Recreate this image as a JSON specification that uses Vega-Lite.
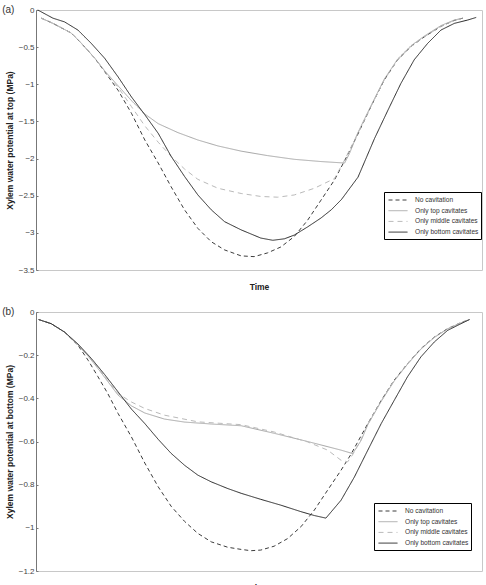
{
  "$schema": "https://vega.github.io/schema/vega-lite/v6.json",
  "padding": {"left": 1, "top": 4, "right": 0, "bottom": 0},
  "datasets": {
    "top": [
      {"s": "No cavitation", "t": 1.2, "v": -0.11}, {"s": "No cavitation", "t": 3.8, "v": -0.18}, {"s": "No cavitation", "t": 7.9, "v": -0.31},
      {"s": "No cavitation", "t": 10.2, "v": -0.45}, {"s": "No cavitation", "t": 13.2, "v": -0.65}, {"s": "No cavitation", "t": 15.4, "v": -0.83},
      {"s": "No cavitation", "t": 18.4, "v": -1.08}, {"s": "No cavitation", "t": 21.4, "v": -1.39}, {"s": "No cavitation", "t": 24.4, "v": -1.75},
      {"s": "No cavitation", "t": 27.4, "v": -2.06}, {"s": "No cavitation", "t": 30.3, "v": -2.38}, {"s": "No cavitation", "t": 33.3, "v": -2.69},
      {"s": "No cavitation", "t": 36.3, "v": -2.94}, {"s": "No cavitation", "t": 39.3, "v": -3.12}, {"s": "No cavitation", "t": 42.3, "v": -3.23},
      {"s": "No cavitation", "t": 46.0, "v": -3.31}, {"s": "No cavitation", "t": 48.9, "v": -3.32}, {"s": "No cavitation", "t": 51.9, "v": -3.27},
      {"s": "No cavitation", "t": 54.9, "v": -3.19}, {"s": "No cavitation", "t": 57.9, "v": -3.05}, {"s": "No cavitation", "t": 60.9, "v": -2.83},
      {"s": "No cavitation", "t": 63.9, "v": -2.56}, {"s": "No cavitation", "t": 66.9, "v": -2.29}, {"s": "No cavitation", "t": 69.1, "v": -2.04},
      {"s": "No cavitation", "t": 72.1, "v": -1.68}, {"s": "No cavitation", "t": 75.1, "v": -1.30}, {"s": "No cavitation", "t": 78.1, "v": -0.94},
      {"s": "No cavitation", "t": 81.1, "v": -0.67}, {"s": "No cavitation", "t": 84.1, "v": -0.49}, {"s": "No cavitation", "t": 87.1, "v": -0.36},
      {"s": "No cavitation", "t": 90.8, "v": -0.22}, {"s": "No cavitation", "t": 93.8, "v": -0.14}, {"s": "No cavitation", "t": 95.7, "v": -0.11},

      {"s": "Only top cavitates", "t": 1.2, "v": -0.11}, {"s": "Only top cavitates", "t": 3.8, "v": -0.18}, {"s": "Only top cavitates", "t": 7.9, "v": -0.31},
      {"s": "Only top cavitates", "t": 10.2, "v": -0.45}, {"s": "Only top cavitates", "t": 13.2, "v": -0.65}, {"s": "Only top cavitates", "t": 15.4, "v": -0.82},
      {"s": "Only top cavitates", "t": 18.4, "v": -1.02}, {"s": "Only top cavitates", "t": 21.4, "v": -1.22}, {"s": "Only top cavitates", "t": 24.4, "v": -1.40},
      {"s": "Only top cavitates", "t": 27.4, "v": -1.53}, {"s": "Only top cavitates", "t": 31.8, "v": -1.65}, {"s": "Only top cavitates", "t": 36.3, "v": -1.75},
      {"s": "Only top cavitates", "t": 40.8, "v": -1.83}, {"s": "Only top cavitates", "t": 46.0, "v": -1.90}, {"s": "Only top cavitates", "t": 51.9, "v": -1.96},
      {"s": "Only top cavitates", "t": 57.9, "v": -2.01}, {"s": "Only top cavitates", "t": 63.9, "v": -2.04}, {"s": "Only top cavitates", "t": 69.2, "v": -2.06},
      {"s": "Only top cavitates", "t": 70.3, "v": -1.93}, {"s": "Only top cavitates", "t": 72.1, "v": -1.66}, {"s": "Only top cavitates", "t": 75.1, "v": -1.29},
      {"s": "Only top cavitates", "t": 78.1, "v": -0.93}, {"s": "Only top cavitates", "t": 81.1, "v": -0.66}, {"s": "Only top cavitates", "t": 84.1, "v": -0.48},
      {"s": "Only top cavitates", "t": 87.1, "v": -0.35}, {"s": "Only top cavitates", "t": 90.8, "v": -0.21}, {"s": "Only top cavitates", "t": 93.8, "v": -0.135},
      {"s": "Only top cavitates", "t": 95.7, "v": -0.11},

      {"s": "Only middle cavitates", "t": 1.2, "v": -0.11}, {"s": "Only middle cavitates", "t": 3.8, "v": -0.18}, {"s": "Only middle cavitates", "t": 7.9, "v": -0.31},
      {"s": "Only middle cavitates", "t": 10.2, "v": -0.45}, {"s": "Only middle cavitates", "t": 13.2, "v": -0.65}, {"s": "Only middle cavitates", "t": 15.4, "v": -0.82},
      {"s": "Only middle cavitates", "t": 18.4, "v": -1.04}, {"s": "Only middle cavitates", "t": 21.4, "v": -1.30}, {"s": "Only middle cavitates", "t": 24.4, "v": -1.56},
      {"s": "Only middle cavitates", "t": 27.4, "v": -1.78}, {"s": "Only middle cavitates", "t": 30.3, "v": -1.97}, {"s": "Only middle cavitates", "t": 33.3, "v": -2.14},
      {"s": "Only middle cavitates", "t": 36.3, "v": -2.28}, {"s": "Only middle cavitates", "t": 40.8, "v": -2.40}, {"s": "Only middle cavitates", "t": 46.0, "v": -2.47},
      {"s": "Only middle cavitates", "t": 50.4, "v": -2.51}, {"s": "Only middle cavitates", "t": 54.2, "v": -2.52}, {"s": "Only middle cavitates", "t": 57.9, "v": -2.49},
      {"s": "Only middle cavitates", "t": 62.4, "v": -2.40}, {"s": "Only middle cavitates", "t": 66.9, "v": -2.27}, {"s": "Only middle cavitates", "t": 69.1, "v": -2.03},
      {"s": "Only middle cavitates", "t": 72.1, "v": -1.67}, {"s": "Only middle cavitates", "t": 75.1, "v": -1.30}, {"s": "Only middle cavitates", "t": 78.1, "v": -0.94},
      {"s": "Only middle cavitates", "t": 81.1, "v": -0.67}, {"s": "Only middle cavitates", "t": 84.1, "v": -0.49}, {"s": "Only middle cavitates", "t": 87.1, "v": -0.36},
      {"s": "Only middle cavitates", "t": 90.8, "v": -0.22}, {"s": "Only middle cavitates", "t": 93.8, "v": -0.14}, {"s": "Only middle cavitates", "t": 95.7, "v": -0.11},

      {"s": "Only bottom cavitates", "t": 0.4, "v": 0}, {"s": "Only bottom cavitates", "t": 3.8, "v": -0.11}, {"s": "Only bottom cavitates", "t": 6.4, "v": -0.16},
      {"s": "Only bottom cavitates", "t": 9.4, "v": -0.27}, {"s": "Only bottom cavitates", "t": 12.4, "v": -0.45}, {"s": "Only bottom cavitates", "t": 15.4, "v": -0.65},
      {"s": "Only bottom cavitates", "t": 18.4, "v": -0.90}, {"s": "Only bottom cavitates", "t": 21.4, "v": -1.17}, {"s": "Only bottom cavitates", "t": 24.4, "v": -1.41},
      {"s": "Only bottom cavitates", "t": 27.4, "v": -1.66}, {"s": "Only bottom cavitates", "t": 30.3, "v": -1.97}, {"s": "Only bottom cavitates", "t": 33.3, "v": -2.24},
      {"s": "Only bottom cavitates", "t": 36.3, "v": -2.49}, {"s": "Only bottom cavitates", "t": 39.3, "v": -2.69}, {"s": "Only bottom cavitates", "t": 42.3, "v": -2.85},
      {"s": "Only bottom cavitates", "t": 46.0, "v": -2.96}, {"s": "Only bottom cavitates", "t": 50.4, "v": -3.07}, {"s": "Only bottom cavitates", "t": 53.1, "v": -3.10},
      {"s": "Only bottom cavitates", "t": 55.7, "v": -3.08}, {"s": "Only bottom cavitates", "t": 57.9, "v": -3.03}, {"s": "Only bottom cavitates", "t": 60.9, "v": -2.92},
      {"s": "Only bottom cavitates", "t": 63.9, "v": -2.80}, {"s": "Only bottom cavitates", "t": 66.2, "v": -2.69}, {"s": "Only bottom cavitates", "t": 68.5, "v": -2.55},
      {"s": "Only bottom cavitates", "t": 72.2, "v": -2.25}, {"s": "Only bottom cavitates", "t": 75.9, "v": -1.73}, {"s": "Only bottom cavitates", "t": 78.9, "v": -1.35},
      {"s": "Only bottom cavitates", "t": 81.8, "v": -0.99}, {"s": "Only bottom cavitates", "t": 84.8, "v": -0.67}, {"s": "Only bottom cavitates", "t": 87.8, "v": -0.45},
      {"s": "Only bottom cavitates", "t": 90.8, "v": -0.27}, {"s": "Only bottom cavitates", "t": 93.8, "v": -0.18}, {"s": "Only bottom cavitates", "t": 96.8, "v": -0.135},
      {"s": "Only bottom cavitates", "t": 98.7, "v": -0.10}
    ],
    "bottom": [
      {"s": "No cavitation", "t": 0.6, "v": -0.035}, {"s": "No cavitation", "t": 3.4, "v": -0.054}, {"s": "No cavitation", "t": 6.4, "v": -0.093},
      {"s": "No cavitation", "t": 9.4, "v": -0.154}, {"s": "No cavitation", "t": 11.7, "v": -0.224}, {"s": "No cavitation", "t": 13.9, "v": -0.300},
      {"s": "No cavitation", "t": 16.1, "v": -0.378}, {"s": "No cavitation", "t": 18.4, "v": -0.470}, {"s": "No cavitation", "t": 21.4, "v": -0.579},
      {"s": "No cavitation", "t": 24.4, "v": -0.700}, {"s": "No cavitation", "t": 27.4, "v": -0.810}, {"s": "No cavitation", "t": 30.3, "v": -0.900},
      {"s": "No cavitation", "t": 33.3, "v": -0.970}, {"s": "No cavitation", "t": 36.3, "v": -1.026}, {"s": "No cavitation", "t": 39.3, "v": -1.065},
      {"s": "No cavitation", "t": 43.0, "v": -1.090}, {"s": "No cavitation", "t": 46.0, "v": -1.100}, {"s": "No cavitation", "t": 48.2, "v": -1.106},
      {"s": "No cavitation", "t": 50.4, "v": -1.103}, {"s": "No cavitation", "t": 53.4, "v": -1.085}, {"s": "No cavitation", "t": 56.4, "v": -1.050},
      {"s": "No cavitation", "t": 59.4, "v": -0.995}, {"s": "No cavitation", "t": 62.4, "v": -0.918}, {"s": "No cavitation", "t": 65.4, "v": -0.825},
      {"s": "No cavitation", "t": 68.4, "v": -0.733}, {"s": "No cavitation", "t": 70.6, "v": -0.660}, {"s": "No cavitation", "t": 74.4, "v": -0.517},
      {"s": "No cavitation", "t": 77.4, "v": -0.410}, {"s": "No cavitation", "t": 80.3, "v": -0.316}, {"s": "No cavitation", "t": 83.3, "v": -0.239},
      {"s": "No cavitation", "t": 86.3, "v": -0.170}, {"s": "No cavitation", "t": 89.3, "v": -0.116}, {"s": "No cavitation", "t": 92.3, "v": -0.077},
      {"s": "No cavitation", "t": 95.3, "v": -0.049}, {"s": "No cavitation", "t": 97.2, "v": -0.035},

      {"s": "Only top cavitates", "t": 0.6, "v": -0.035}, {"s": "Only top cavitates", "t": 3.4, "v": -0.054}, {"s": "Only top cavitates", "t": 6.4, "v": -0.093},
      {"s": "Only top cavitates", "t": 9.4, "v": -0.152}, {"s": "Only top cavitates", "t": 11.7, "v": -0.205}, {"s": "Only top cavitates", "t": 13.9, "v": -0.262},
      {"s": "Only top cavitates", "t": 16.1, "v": -0.322}, {"s": "Only top cavitates", "t": 18.4, "v": -0.385}, {"s": "Only top cavitates", "t": 21.4, "v": -0.435},
      {"s": "Only top cavitates", "t": 24.4, "v": -0.468}, {"s": "Only top cavitates", "t": 28.8, "v": -0.496}, {"s": "Only top cavitates", "t": 33.3, "v": -0.510},
      {"s": "Only top cavitates", "t": 39.3, "v": -0.519}, {"s": "Only top cavitates", "t": 46.0, "v": -0.527}, {"s": "Only top cavitates", "t": 53.4, "v": -0.562},
      {"s": "Only top cavitates", "t": 60.9, "v": -0.600}, {"s": "Only top cavitates", "t": 68.4, "v": -0.640}, {"s": "Only top cavitates", "t": 71.0, "v": -0.656},
      {"s": "Only top cavitates", "t": 72.9, "v": -0.595}, {"s": "Only top cavitates", "t": 74.4, "v": -0.522}, {"s": "Only top cavitates", "t": 77.4, "v": -0.414},
      {"s": "Only top cavitates", "t": 80.3, "v": -0.320}, {"s": "Only top cavitates", "t": 83.3, "v": -0.242}, {"s": "Only top cavitates", "t": 86.3, "v": -0.172},
      {"s": "Only top cavitates", "t": 89.3, "v": -0.118}, {"s": "Only top cavitates", "t": 92.3, "v": -0.078}, {"s": "Only top cavitates", "t": 95.3, "v": -0.050},
      {"s": "Only top cavitates", "t": 97.2, "v": -0.035},

      {"s": "Only middle cavitates", "t": 0.6, "v": -0.035}, {"s": "Only middle cavitates", "t": 3.4, "v": -0.054}, {"s": "Only middle cavitates", "t": 6.4, "v": -0.093},
      {"s": "Only middle cavitates", "t": 9.4, "v": -0.152}, {"s": "Only middle cavitates", "t": 11.7, "v": -0.203}, {"s": "Only middle cavitates", "t": 13.9, "v": -0.258},
      {"s": "Only middle cavitates", "t": 16.1, "v": -0.318}, {"s": "Only middle cavitates", "t": 18.4, "v": -0.378}, {"s": "Only middle cavitates", "t": 21.4, "v": -0.417},
      {"s": "Only middle cavitates", "t": 24.4, "v": -0.447}, {"s": "Only middle cavitates", "t": 28.8, "v": -0.478}, {"s": "Only middle cavitates", "t": 36.3, "v": -0.509},
      {"s": "Only middle cavitates", "t": 46.0, "v": -0.522}, {"s": "Only middle cavitates", "t": 53.4, "v": -0.556}, {"s": "Only middle cavitates", "t": 60.9, "v": -0.602},
      {"s": "Only middle cavitates", "t": 65.4, "v": -0.640}, {"s": "Only middle cavitates", "t": 68.4, "v": -0.687}, {"s": "Only middle cavitates", "t": 69.9, "v": -0.694},
      {"s": "Only middle cavitates", "t": 71.2, "v": -0.655}, {"s": "Only middle cavitates", "t": 72.9, "v": -0.590}, {"s": "Only middle cavitates", "t": 74.4, "v": -0.519},
      {"s": "Only middle cavitates", "t": 77.4, "v": -0.412}, {"s": "Only middle cavitates", "t": 80.3, "v": -0.318}, {"s": "Only middle cavitates", "t": 83.3, "v": -0.240},
      {"s": "Only middle cavitates", "t": 86.3, "v": -0.171}, {"s": "Only middle cavitates", "t": 89.3, "v": -0.117}, {"s": "Only middle cavitates", "t": 92.3, "v": -0.078},
      {"s": "Only middle cavitates", "t": 95.3, "v": -0.049}, {"s": "Only middle cavitates", "t": 97.2, "v": -0.035},

      {"s": "Only bottom cavitates", "t": 0.6, "v": -0.035}, {"s": "Only bottom cavitates", "t": 3.4, "v": -0.054}, {"s": "Only bottom cavitates", "t": 6.4, "v": -0.093},
      {"s": "Only bottom cavitates", "t": 9.4, "v": -0.148}, {"s": "Only bottom cavitates", "t": 12.4, "v": -0.215}, {"s": "Only bottom cavitates", "t": 15.4, "v": -0.290},
      {"s": "Only bottom cavitates", "t": 18.4, "v": -0.370}, {"s": "Only bottom cavitates", "t": 21.4, "v": -0.450}, {"s": "Only bottom cavitates", "t": 24.4, "v": -0.517},
      {"s": "Only bottom cavitates", "t": 27.4, "v": -0.590}, {"s": "Only bottom cavitates", "t": 30.3, "v": -0.655}, {"s": "Only bottom cavitates", "t": 33.3, "v": -0.710},
      {"s": "Only bottom cavitates", "t": 36.3, "v": -0.756}, {"s": "Only bottom cavitates", "t": 39.3, "v": -0.787}, {"s": "Only bottom cavitates", "t": 43.0, "v": -0.818},
      {"s": "Only bottom cavitates", "t": 46.0, "v": -0.840}, {"s": "Only bottom cavitates", "t": 50.4, "v": -0.868}, {"s": "Only bottom cavitates", "t": 54.9, "v": -0.895},
      {"s": "Only bottom cavitates", "t": 59.4, "v": -0.925}, {"s": "Only bottom cavitates", "t": 62.4, "v": -0.943}, {"s": "Only bottom cavitates", "t": 65.0, "v": -0.955},
      {"s": "Only bottom cavitates", "t": 68.4, "v": -0.872}, {"s": "Only bottom cavitates", "t": 71.4, "v": -0.764}, {"s": "Only bottom cavitates", "t": 74.4, "v": -0.640},
      {"s": "Only bottom cavitates", "t": 77.4, "v": -0.517}, {"s": "Only bottom cavitates", "t": 80.3, "v": -0.410}, {"s": "Only bottom cavitates", "t": 83.3, "v": -0.300},
      {"s": "Only bottom cavitates", "t": 86.3, "v": -0.208}, {"s": "Only bottom cavitates", "t": 89.3, "v": -0.139}, {"s": "Only bottom cavitates", "t": 92.3, "v": -0.085},
      {"s": "Only bottom cavitates", "t": 95.3, "v": -0.054}, {"s": "Only bottom cavitates", "t": 97.2, "v": -0.035}
    ]
  },
  "spacing": 15,
  "vconcat": [
    {
      "title": {"text": "(a)", "anchor": "start", "frame": "bounds", "baseline": "middle", "offset": -14, "dx": -3, "fontSize": 10, "fontWeight": "normal", "color": "#333"},
      "width": 446,
      "height": 260,
      "data": {"name": "top"},
      "mark": {"type": "line", "strokeWidth": 1},
      "encoding": {
        "x": {"field": "t", "type": "quantitative", "scale": {"domain": [0, 100], "nice": false},
              "axis": {"title": "Time", "labels": false, "ticks": false, "domain": false, "grid": false, "titlePadding": 12}},
        "y": {"field": "v", "type": "quantitative", "scale": {"domain": [-3.5, 0], "nice": false, "zero": false},
              "axis": {"title": "Xylem water potential at top (MPa)", "values": [-3.5, -3, -2.5, -2, -1.5, -1, -0.5, 0], "format": "~g"}},
        "color": {"field": "s", "type": "nominal",
                  "scale": {"domain": ["No cavitation", "Only top cavitates", "Only middle cavitates", "Only bottom cavitates"], "range": ["#3c3c3c", "#a6a6a6", "#bababa", "#262626"]},
                  "legend": {"orient": "none", "legendX": 348, "legendY": 182}},
        "strokeDash": {"field": "s", "type": "nominal",
                  "scale": {"domain": ["No cavitation", "Only top cavitates", "Only middle cavitates", "Only bottom cavitates"], "range": [[4, 3], [1, 0], [5, 4], [1, 0]]},
                  "legend": {"orient": "none", "legendX": 348, "legendY": 182}}
      }
    },
    {
      "title": {"text": "(b)", "anchor": "start", "frame": "bounds", "baseline": "middle", "offset": -14, "dx": -3, "fontSize": 10, "fontWeight": "normal", "color": "#333"},
      "width": 446,
      "height": 259,
      "data": {"name": "bottom"},
      "mark": {"type": "line", "strokeWidth": 1},
      "encoding": {
        "x": {"field": "t", "type": "quantitative", "scale": {"domain": [0, 100], "nice": false},
              "axis": {"title": "Time", "labels": false, "ticks": false, "domain": false, "grid": false, "titlePadding": 12}},
        "y": {"field": "v", "type": "quantitative", "scale": {"domain": [-1.2, 0], "nice": false, "zero": false},
              "axis": {"title": "Xylem water potential at bottom (MPa)", "values": [-1.2, -1, -0.8, -0.6, -0.4, -0.2, 0], "format": "~g"}},
        "color": {"field": "s", "type": "nominal",
                  "scale": {"domain": ["No cavitation", "Only top cavitates", "Only middle cavitates", "Only bottom cavitates"], "range": ["#3c3c3c", "#a6a6a6", "#bababa", "#262626"]},
                  "legend": {"orient": "none", "legendX": 338, "legendY": 191}},
        "strokeDash": {"field": "s", "type": "nominal",
                  "scale": {"domain": ["No cavitation", "Only top cavitates", "Only middle cavitates", "Only bottom cavitates"], "range": [[4, 3], [1, 0], [5, 4], [1, 0]]},
                  "legend": {"orient": "none", "legendX": 338, "legendY": 191}}
      }
    }
  ],
  "resolve": {"scale": {"color": "independent", "strokeDash": "independent"}, "legend": {"color": "independent", "strokeDash": "independent"}},
  "config": {
    "font": "Liberation Sans",
    "view": {"stroke": "#c8c8c8", "strokeWidth": 1},
    "axis": {"grid": false, "labelFont": "Liberation Sans", "labelFontSize": 8, "labelColor": "#444", "titleFont": "Liberation Sans", "titleFontSize": 8.5, "titleFontWeight": "bold", "titleColor": "#222"},
    "axisY": {"domainColor": "#777", "tickColor": "#777", "tickSize": -2, "labelPadding": 4, "titlePadding": 4},
    "legend": {"title": null, "symbolType": "M-2,0H2", "symbolSize": 90, "symbolOffset": 6, "symbolStrokeWidth": 1, "labelFont": "Liberation Sans", "labelFontSize": 6.6, "labelColor": "#333", "labelOffset": 11.5, "rowPadding": 0.7, "padding": 2.5, "strokeColor": "#000", "fillColor": "#fff", "cornerRadius": 0}
  }
}
